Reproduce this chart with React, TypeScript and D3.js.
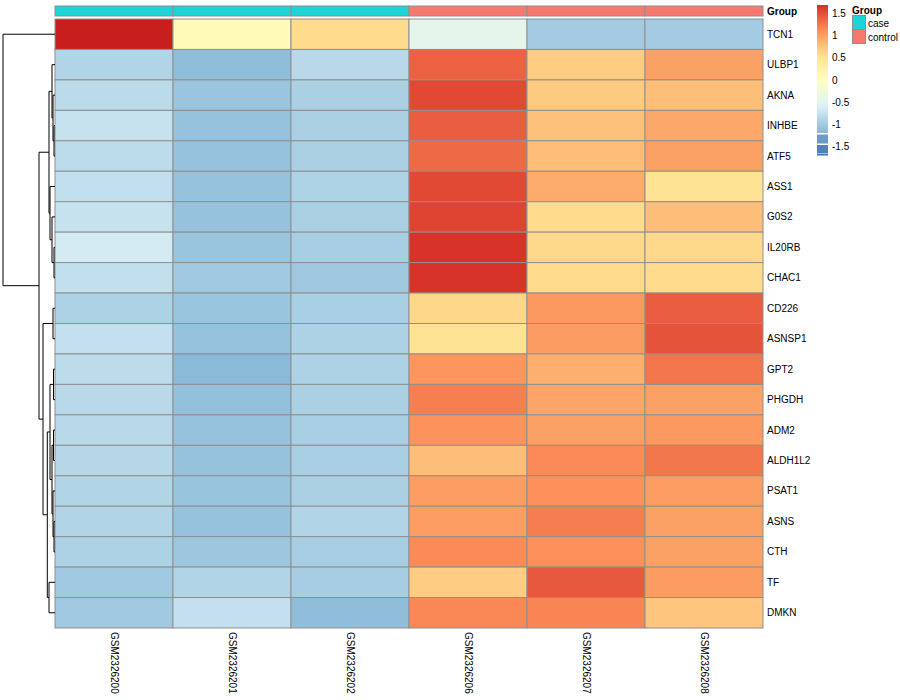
import React from "react";
import * as d3 from "d3";

const genes = ["TCN1","ULBP1","AKNA","INHBE","ATF5","ASS1","G0S2","IL20RB","CHAC1","CD226","ASNSP1","GPT2","PHGDH","ADM2","ALDH1L2","PSAT1","ASNS","CTH","TF","DMKN"];
const samples = ["GSM2326200","GSM2326201","GSM2326202","GSM2326206","GSM2326207","GSM2326208"];
const groups = ["case","case","case","control","control","control"];
const groupNames = ["case","control"];
const groupColors = ["#1CD3D8","#F8786F"];

// row-scaled z-scores, one array per gene (in sample order)
const zScores: number[][] = [
  [1.82, 0.1, 0.6, -0.45, -1.0, -1.0],
  [-0.9, -1.15, -0.85, 1.4, 0.7, 1.0],
  [-0.83, -1.07, -0.95, 1.55, 0.72, 0.8],
  [-0.75, -1.1, -0.95, 1.42, 0.78, 0.95],
  [-0.82, -1.1, -0.95, 1.35, 0.8, 1.0],
  [-0.78, -1.1, -0.92, 1.55, 0.92, 0.52],
  [-0.75, -1.1, -0.95, 1.58, 0.6, 0.8],
  [-0.65, -1.07, -0.97, 1.68, 0.62, 0.62],
  [-0.78, -1.02, -1.03, 1.68, 0.6, 0.6],
  [-0.93, -1.07, -0.96, 0.63, 1.05, 1.42],
  [-0.77, -1.1, -0.93, 0.52, 1.03, 1.48],
  [-0.82, -1.18, -0.93, 1.08, 0.9, 1.28],
  [-0.85, -1.12, -0.95, 1.22, 0.97, 1.0],
  [-0.85, -1.1, -0.96, 1.1, 1.0, 1.05],
  [-0.87, -1.1, -0.96, 0.8, 1.15, 1.27],
  [-0.9, -1.08, -0.95, 1.02, 1.12, 1.02],
  [-0.9, -1.1, -0.9, 1.02, 1.23, 1.0],
  [-0.93, -1.05, -0.97, 1.15, 1.12, 1.0],
  [-1.02, -0.9, -0.98, 0.7, 1.45, 1.03],
  [-1.02, -0.77, -1.15, 1.17, 1.18, 0.75],
];

// hierarchical clustering merges: [left, right, height]; numbers refer to earlier merges
const merges: [string | number, string | number, number][] = [
  ["INHBE", "ATF5", 1],     // 0
  ["AKNA", 0, 2],           // 1
  ["ULBP1", 1, 3],          // 2
  ["IL20RB", "CHAC1", 1],   // 3
  ["G0S2", 3, 3],           // 4
  ["ASS1", 4, 5],           // 5
  [2, 5, 6],                // 6
  ["CD226", "ASNSP1", 2],   // 7
  ["GPT2", "PHGDH", 1.5],   // 8
  ["ADM2", "ALDH1L2", 1.5], // 9
  ["ASNS", "CTH", 1],       // 10
  ["PSAT1", 10, 2],         // 11
  [9, 11, 3],               // 12
  [8, 12, 5],               // 13
  ["TF", "DMKN", 6],        // 14
  [13, 14, 7.7],            // 15
  [7, 15, 12],              // 16
  [6, 16, 16],              // 17
  ["TCN1", 17, 52],         // 18
];

const colorDomain = [-1.7, -1.133, -0.567, 0, 0.567, 1.133, 1.7, 1.85];
const colorRange = ["#4575B4", "#91BFDB", "#E0F3F8", "#FFFFBF", "#FEE090", "#FC8D59", "#D73027", "#C41A1C"];
const legendTicks = [1.5, 1, 0.5, 0, -0.5, -1, -1.5];

const FONT = "'Liberation Sans', Arial, Helvetica, sans-serif";

export default function App() {
  const W = 900, H = 700;
  const left = 55, right = 763, top = 19, bottom = 628;
  const x = d3.scaleBand<string>().domain(samples).range([left, right]);
  const y = d3.scaleBand<string>().domain(genes).range([top, bottom]);
  const color = d3.scaleLinear<string>().domain(colorDomain).range(colorRange).clamp(true);
  const xH = d3.scaleLinear().domain([0, 52]).range([left, 3]);
  const legY = d3.scaleLinear().domain([1.7, -1.7]).range([5, 155]);
  const border = "#8f8f8f";

  // dendrogram
  const pos: { x: number; y: number }[] = [];
  const get = (k: string | number) =>
    typeof k === "string" ? { x: left, y: (y(k) as number) + y.bandwidth() / 2 } : pos[k];
  const segs: [number, number, number, number][] = [];
  merges.forEach(([a, b, h]) => {
    const pa = get(a), pb = get(b);
    const nx = xH(h);
    const ny = (pa.y + pb.y) / 2;
    segs.push([nx, pa.y, nx, pb.y]);
    segs.push([nx, pa.y, pa.x, pa.y]);
    segs.push([nx, pb.y, pb.x, pb.y]);
    pos.push({ x: nx, y: ny });
  });

  const gradEnd = -1.2;
  const gradStops = d3.range(0, 1.0001, 0.05).map((t) => {
    const v = 1.7 - t * (1.7 - gradEnd);
    return { off: t, c: color(v) };
  });

  return (
    <svg width={W} height={H} style={{ position: "absolute", left: 0, top: 0, background: "#fff" }} fontFamily={FONT}>
      <defs>
        <linearGradient id="leg" x1="0" y1="0" x2="0" y2="1">
          {gradStops.map((s, i) => (
            <stop key={i} offset={s.off} stopColor={s.c} />
          ))}
        </linearGradient>
      </defs>
      {/* annotation bar */}
      {samples.map((s, i) => (
        <rect key={s} x={x(s)} y={6} width={x.bandwidth()} height={10}
          fill={groupColors[groupNames.indexOf(groups[i])]} stroke={border} strokeWidth={1} />
      ))}
      <text x={767} y={11} fontSize={10} fontWeight="bold" dominantBaseline="central">Group</text>
      {/* heatmap cells */}
      {genes.map((g, r) =>
        samples.map((s, c) => (
          <rect key={g + s} x={x(s)} y={y(g)} width={x.bandwidth()} height={y.bandwidth()}
            fill={color(zScores[r][c])} stroke={border} strokeWidth={1} />
        ))
      )}
      {/* row labels */}
      {genes.map((g) => (
        <text key={g} x={767} y={(y(g) as number) + y.bandwidth() / 2} fontSize={10} dominantBaseline="central">{g}</text>
      ))}
      {/* column labels */}
      {samples.map((s) => (
        <text key={s} transform={`translate(${(x(s) as number) + x.bandwidth() / 2},632) rotate(90)`}
          fontSize={10} dominantBaseline="central">{s}</text>
      ))}
      {/* dendrogram */}
      {segs.map((d, i) => (
        <line key={i} x1={d[0]} y1={d[1]} x2={d[2]} y2={d[3]} stroke="#000" strokeWidth={1} />
      ))}
      {/* colour legend */}
      <rect x={817} y={legY(1.7)} width={11} height={legY(gradEnd) - legY(1.7)} fill="url(#leg)" />
      <rect x={817} y={legY(-1.236)} width={11} height={9} fill={color(-1.42)} />
      <rect x={817} y={legY(-1.474)} width={11} height={8.5} fill={color(-1.6)} />
      <rect x={817} y={legY(-1.678)} width={11} height={1.5} fill={color(-1.7)} />
      {legendTicks.map((t) => (
        <text key={t} x={832} y={legY(t)} fontSize={10} dominantBaseline="central">{String(t)}</text>
      ))}
      {/* group legend */}
      <text x={852} y={10} fontSize={10} fontWeight="bold" dominantBaseline="central">Group</text>
      {groupNames.map((g, i) => (
        <g key={g}>
          <rect x={852.5} y={15.5 + i * 14} width={13} height={14} fill={groupColors[i]} stroke={border} strokeWidth={1} />
          <text x={868} y={23 + i * 14} fontSize={10} dominantBaseline="central">{g}</text>
        </g>
      ))}
    </svg>
  );
}
